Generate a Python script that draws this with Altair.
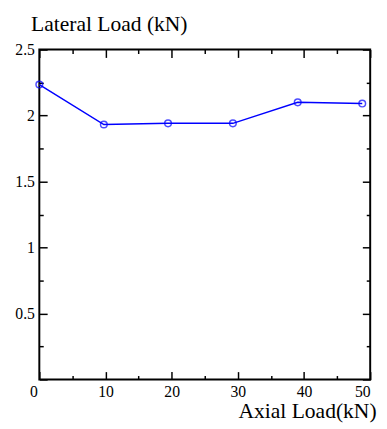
import altair as alt
import pandas as pd

axial = [0.0, 9.75, 19.45, 29.25, 39.05, 48.8]
lateral = [2.235, 1.932, 1.941, 1.941, 2.100, 2.091]
x_major = [0, 10, 20, 30, 40, 50]
x_minor = [5, 15, 25, 35, 45]
y_labels = [0.5, 1, 1.5, 2, 2.5]
y_major = [0, 0.5, 1, 1.5, 2, 2.5]
y_minor = [0.25, 0.75, 1.25, 1.75, 2.25]

df = pd.DataFrame({"axial": axial, "lateral": lateral})

W, H = 338, 337
FONT = "Liberation Serif, Times New Roman, serif"
BLUE = "#0000ff"

xs = alt.Scale(domain=[0, 50], nice=False, zero=False)
ys = alt.Scale(domain=[0, 2.5], nice=False, zero=False)


def tick_axis(orient, values, size, offset):
    return alt.Axis(orient=orient, values=values, labels=False, domain=False,
                    grid=False, ticks=True, tickSize=size, tickColor="black",
                    tickWidth=1.5, offset=offset, title="")


base = alt.Chart(df)

line = base.mark_line(color=BLUE, strokeWidth=1.5).encode(
    x=alt.X("axial:Q", scale=xs, axis=alt.Axis(
        orient="bottom", values=x_major, ticks=False, domain=False, grid=False,
        labelFont=FONT, labelFontSize=16, labelColor="black", labelPadding=4,
        labelOffset={"condition": {"test": "datum.value === 0", "value": -10}, "value": 0},
        title="Axial Load(kN)", titleFont=FONT, titleFontSize=22,
        titleFontWeight="normal", titleColor="black", titleAlign="right",
        titleBaseline="alphabetic", titleAnchor="end", titleX=344, titleY=39)),
    y=alt.Y("lateral:Q", scale=ys, axis=alt.Axis(
        orient="left", values=y_labels, format="~g", ticks=False, domain=False,
        grid=False, labelFont=FONT, labelFontSize=16, labelColor="black",
        labelPadding=5,
        title="Lateral Load (kN)", titleFont=FONT, titleFontSize=22,
        titleFontWeight="normal", titleColor="black", titleAngle=0,
        titleAlign="left", titleBaseline="alphabetic", titleX=-9, titleY=-19)),
)

pts = base.mark_point(shape="circle", filled=False, color=BLUE, size=46,
                      strokeWidth=1.5).encode(
    x=alt.X("axial:Q", scale=xs, axis=None),
    y=alt.Y("lateral:Q", scale=ys, axis=None),
)


def tick_layer(xorient, yorient, xvals, yvals, size):
    return base.mark_point(opacity=0).encode(
        x=alt.X("axial:Q", scale=xs, axis=tick_axis(xorient, xvals, size, -H)),
        y=alt.Y("lateral:Q", scale=ys, axis=tick_axis(yorient, yvals, size, -W)),
    )


layers = [
    line, pts,
    tick_layer("top", "right", x_major, y_major, 8),
    tick_layer("bottom", "left", x_major, y_major, 8),
    tick_layer("top", "right", x_minor, y_minor, 4),
    tick_layer("bottom", "left", x_minor, y_minor, 4),
]

chart = alt.layer(*layers).resolve_axis(
    x="independent", y="independent"
).properties(
    width=W, height=H,
    autosize=alt.AutoSizeParams(type="none"),
    padding={"left": 32, "top": 38, "right": 9, "bottom": 40},
    background="white",
).configure_view(stroke="black", strokeWidth=2)

chart.save("out.html", embed_options={"renderer": "svg", "actions": False})
